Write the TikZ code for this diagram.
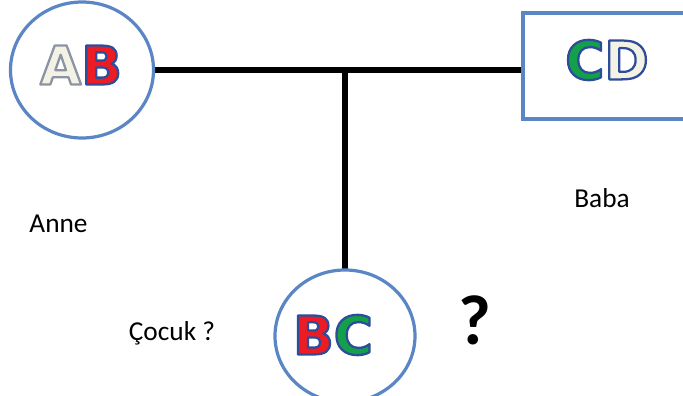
\documentclass[tikz,border=0pt]{standalone}
\usepackage{fontspec}
\setmainfont{Carlito}
\newfontfamily\letterfont{DejaVu Sans Bold}
\definecolor{ringblue}{HTML}{5A86C5}
\definecolor{lettred}{HTML}{EC1C24}
\definecolor{lettgreen}{HTML}{12A04A}
\definecolor{lettcream}{HTML}{F4F2E4}
% outline colours as PDF stroke operands
\newcommand{\edgeblue}{0.18 0.30 0.60 RG}
\newcommand{\edgegrey}{0.55 0.58 0.64 RG}
% filled letter with a stroked edge (text render mode 2)
\newcommand{\bubble}[3]{{\color{#2}\special{pdf:literal direct 2 Tr 1.7 w 1 j #1}#3\special{pdf:literal direct 0 Tr}}}
\tikzset{
  person/.style={draw=ringblue, line width=2.4pt, fill=white},
  link/.style={draw=black, line width=4.5pt},
  letters/.style={font=\letterfont\fontsize{40}{40}\selectfont, inner sep=0pt},
  caption/.style={font=\fontsize{20.5}{24}\selectfont, inner sep=0pt}
}
\begin{document}
\begin{tikzpicture}[x=0.75pt,y=-0.75pt]
\useasboundingbox (0,0) rectangle (683,396);
% family lines
\coordinate (mid) at (345,70);
\draw[link] (154,70) -- (523,70);
\draw[link] (mid) -- (345,272);
% parents and child
\draw[person] (82,70) ellipse [x radius=71.5, y radius=68];
\draw[person] (523,13) rectangle (690,119);
\draw[person] (345,336) ellipse [x radius=70, y radius=66];
% genotype letters
\node[letters] (ab) at (81,65) {\bubble{\edgegrey}{lettcream}{A}\bubble{\edgeblue}{lettred}{B}};
\node[letters] (cd) at (607,60) {\bubble{\edgeblue}{lettgreen}{C}\bubble{\edgeblue}{lettcream}{D}};
\node[letters] (bc) at (333,335) {\bubble{\edgeblue}{lettred}{B}\bubble{\edgeblue}{lettgreen}{C}};
% captions
\node[caption, anchor=base] (anne) at (58.5,232) {Anne};
\node[caption, anchor=base] (baba) at (602,207) {Baba};
\node[caption, anchor=base] (cocuk) at (172,340) {Çocuk ?};
\node[font=\bfseries\fontsize{53}{53}\selectfont, inner sep=0pt, anchor=base] (q) at (475,344) {?};
\end{tikzpicture}
\end{document}
